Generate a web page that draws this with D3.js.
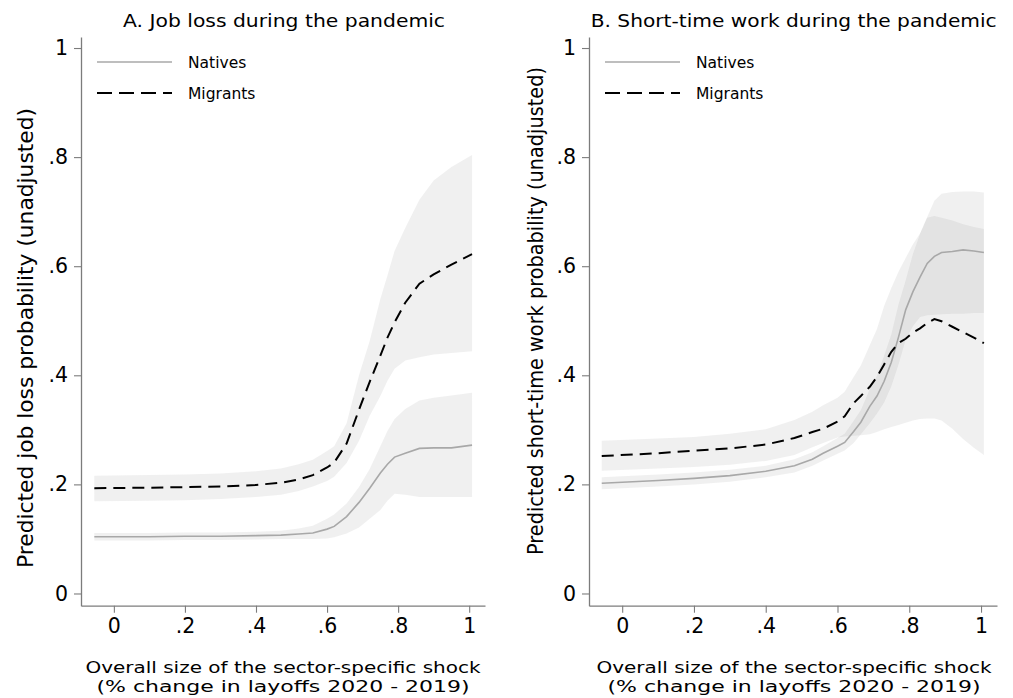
<!DOCTYPE html>
<html>
<head>
<meta charset="utf-8">
<script src="https://cdn.jsdelivr.net/npm/d3@7/dist/d3.min.js"></script>
<style>
  html, body { margin: 0; padding: 0; background: #fff; }
  svg { display: block; }
  text { font-family: "DejaVu Sans", Verdana, sans-serif; fill: #000; }
</style>
</head>
<body>
<svg id="chart" width="1013" height="698"></svg>
<script>
// ---------------- DATA ----------------
const tickVals = [0, 0.2, 0.4, 0.6, 0.8, 1];
const tickLabels = ["0", ".2", ".4", ".6", ".8", "1"];
const seriesNames = ["Natives", "Migrants"];

const titleA = "A. Job loss during the pandemic";
const titleB = "B. Short-time work during the pandemic";
const yTitleA = "Predicted job loss probability (unadjusted)";
const yTitleB = "Predicted short-time work probability (unadjusted)";
const xTitle1 = "Overall size of the sector-specific shock";
const xTitle2 = "(% change in layoffs 2020 - 2019)";

// Panel A: job loss
const shockA  = [-0.055, 0.1, 0.2, 0.3, 0.4, 0.47, 0.52, 0.56, 0.6, 0.62, 0.655, 0.69, 0.72, 0.75, 0.77, 0.79, 0.82, 0.86, 0.9, 0.95, 1.008];
const natA    = [0.104, 0.104, 0.105, 0.105, 0.106, 0.107, 0.109, 0.111, 0.118, 0.123, 0.141, 0.167, 0.193, 0.221, 0.237, 0.250, 0.257, 0.266, 0.267, 0.267, 0.272];
const natAHi  = [0.111, 0.111, 0.112, 0.112, 0.113, 0.115, 0.119, 0.124, 0.137, 0.145, 0.165, 0.195, 0.228, 0.270, 0.298, 0.320, 0.338, 0.354, 0.359, 0.363, 0.368];
const natALo  = [0.097, 0.097, 0.098, 0.098, 0.099, 0.100, 0.100, 0.100, 0.101, 0.103, 0.110, 0.121, 0.137, 0.153, 0.170, 0.183, 0.181, 0.177, 0.177, 0.177, 0.177];
const migA    = [0.193, 0.194, 0.195, 0.196, 0.199, 0.203, 0.209, 0.217, 0.231, 0.240, 0.275, 0.337, 0.388, 0.436, 0.469, 0.497, 0.533, 0.568, 0.585, 0.603, 0.622];
const migAHi  = [0.216, 0.217, 0.218, 0.220, 0.224, 0.229, 0.237, 0.245, 0.261, 0.270, 0.312, 0.400, 0.463, 0.540, 0.583, 0.628, 0.670, 0.722, 0.757, 0.782, 0.804];
const migALo  = [0.169, 0.170, 0.171, 0.173, 0.177, 0.181, 0.188, 0.196, 0.206, 0.214, 0.239, 0.280, 0.326, 0.362, 0.390, 0.412, 0.427, 0.433, 0.438, 0.441, 0.444];

// Panel B: short-time work
const shockB  = [-0.057, 0.1, 0.2, 0.3, 0.4, 0.48, 0.53, 0.56, 0.6, 0.62, 0.645, 0.665, 0.69, 0.71, 0.73, 0.75, 0.77, 0.79, 0.81, 0.83, 0.85, 0.87, 0.89, 0.92, 0.95, 0.98, 1.008];
const natB    = [0.202, 0.207, 0.211, 0.216, 0.224, 0.234, 0.246, 0.257, 0.270, 0.277, 0.297, 0.314, 0.343, 0.362, 0.389, 0.424, 0.470, 0.520, 0.553, 0.580, 0.605, 0.618, 0.625, 0.627, 0.630, 0.628, 0.625];
const natBHi  = [0.213, 0.218, 0.222, 0.227, 0.234, 0.246, 0.259, 0.270, 0.285, 0.293, 0.316, 0.336, 0.375, 0.399, 0.436, 0.475, 0.530, 0.574, 0.622, 0.659, 0.689, 0.692, 0.689, 0.684, 0.677, 0.672, 0.668];
const natBLo  = [0.191, 0.196, 0.200, 0.205, 0.213, 0.222, 0.234, 0.244, 0.256, 0.262, 0.276, 0.292, 0.312, 0.330, 0.350, 0.380, 0.420, 0.465, 0.490, 0.507, 0.510, 0.511, 0.512, 0.513, 0.513, 0.514, 0.514];
const migB    = [0.252, 0.257, 0.262, 0.266, 0.273, 0.285, 0.296, 0.302, 0.315, 0.325, 0.349, 0.362, 0.379, 0.397, 0.420, 0.443, 0.459, 0.467, 0.478, 0.486, 0.496, 0.503, 0.499, 0.489, 0.479, 0.469, 0.459];
const migBHi  = [0.280, 0.284, 0.287, 0.293, 0.301, 0.318, 0.333, 0.345, 0.359, 0.370, 0.397, 0.418, 0.455, 0.485, 0.527, 0.560, 0.590, 0.615, 0.640, 0.660, 0.690, 0.720, 0.733, 0.736, 0.737, 0.737, 0.735];
const migBLo  = [0.225, 0.229, 0.232, 0.236, 0.243, 0.254, 0.268, 0.276, 0.286, 0.288, 0.289, 0.290, 0.292, 0.296, 0.301, 0.305, 0.309, 0.313, 0.317, 0.320, 0.321, 0.321, 0.317, 0.302, 0.283, 0.267, 0.254];

// ---------------- DRAW ----------------
const svg = d3.select("#chart");
const AXIS_COL = "#7c7c7c";
const BAND_COL = "#8f8f8f";
const BAND_OP = 0.135;
const NAT_COL = "#a8a8a8";

function zip(xs, ys, lo, hi) {
  return xs.map((s, i) => ({ s: s, v: ys[i], lo: lo[i], hi: hi[i] }));
}

function drawPanel(cfg) {
  const x = d3.scaleLinear().domain([-0.0925, 1.0445]).range([cfg.x0, cfg.x1]);
  const y = d3.scaleLinear().domain([-0.0224, 1.0202]).range([605.7, 37]);
  const g = svg.append("g");

  const nat = zip(cfg.shock, cfg.nat, cfg.natLo, cfg.natHi);
  const mig = zip(cfg.shock, cfg.mig, cfg.migLo, cfg.migHi);

  const area = d3.area().x(d => x(d.s)).y0(d => y(d.lo)).y1(d => y(d.hi));
  const line = d3.line().x(d => x(d.s)).y(d => y(d.v));

  g.append("path").datum(nat).attr("d", area).attr("fill", BAND_COL).attr("fill-opacity", BAND_OP);
  g.append("path").datum(mig).attr("d", area).attr("fill", BAND_COL).attr("fill-opacity", BAND_OP);

  g.append("path").datum(nat).attr("d", line).attr("fill", "none")
    .attr("stroke", NAT_COL).attr("stroke-width", 1.6);
  g.append("path").datum(mig).attr("d", line).attr("fill", "none")
    .attr("stroke", "#000").attr("stroke-width", 2).attr("stroke-dasharray", "12,7");

  // axes
  const xAxis = d3.axisBottom(x).tickValues(tickVals).tickFormat((d, i) => tickLabels[i])
    .tickSizeInner(7).tickSizeOuter(0).tickPadding(6);
  const yAxis = d3.axisLeft(y).tickValues(tickVals).tickFormat((d, i) => tickLabels[i])
    .tickSizeInner(7).tickSizeOuter(0).tickPadding(6);

  const gx = g.append("g").attr("transform", "translate(0,605.7)").call(xAxis);
  const gy = g.append("g").attr("transform", `translate(${cfg.x0},0)`).call(yAxis);
  [gx, gy].forEach(a => {
    a.attr("font-size", null);
    a.select(".domain").attr("stroke", AXIS_COL).attr("stroke-width", 1.3);
    a.selectAll(".tick line").attr("stroke", AXIS_COL).attr("stroke-width", 1.1);
    a.selectAll(".tick text").attr("fill", "#000").style("font-size", "20.5px")
      .style("font-family", '"DejaVu Sans", Verdana, sans-serif');
  });

  // title
  g.append("text").attr("x", cfg.titleX).attr("y", 27).attr("text-anchor", "middle")
    .style("font-size", "17.5px").attr("textLength", cfg.titleW).attr("lengthAdjust", "spacingAndGlyphs")
    .text(cfg.title);

  // y title
  g.append("text").attr("transform", `translate(${cfg.yTitleX},${cfg.yTitleY}) rotate(-90)`)
    .attr("text-anchor", "middle").style("font-size", "21px")
    .attr("textLength", cfg.yTitleW).attr("lengthAdjust", "spacingAndGlyphs")
    .text(cfg.yTitle);

  // x title (two lines)
  g.append("text").attr("x", cfg.xTitleX).attr("y", 672.5).attr("text-anchor", "middle")
    .style("font-size", "16px").attr("textLength", 395).attr("lengthAdjust", "spacingAndGlyphs")
    .text(xTitle1);
  g.append("text").attr("x", cfg.xTitleX).attr("y", 691.5).attr("text-anchor", "middle")
    .style("font-size", "16px").attr("textLength", 373).attr("lengthAdjust", "spacingAndGlyphs")
    .text(xTitle2);

  // legend
  const lx = cfg.x0 + 16;
  const leg = g.append("g");
  leg.append("line").attr("x1", lx).attr("x2", lx + 75).attr("y1", 62).attr("y2", 62)
    .attr("stroke", NAT_COL).attr("stroke-width", 1.6);
  leg.append("line").attr("x1", lx).attr("x2", lx + 75).attr("y1", 93).attr("y2", 93)
    .attr("stroke", "#000").attr("stroke-width", 2).attr("stroke-dasharray", "15,7");
  leg.append("text").attr("x", lx + 91).attr("y", 67.7).style("font-size", "15.5px").text(seriesNames[0]);
  leg.append("text").attr("x", lx + 91).attr("y", 98.5).style("font-size", "15.5px").text(seriesNames[1]);
}

drawPanel({
  x0: 81, x1: 485,
  shock: shockA, nat: natA, natLo: natALo, natHi: natAHi, mig: migA, migLo: migALo, migHi: migAHi,
  title: titleA, titleX: 284, titleW: 322,
  yTitle: yTitleA, yTitleX: 33, yTitleY: 338, yTitleW: 460,
  xTitleX: 283
});
drawPanel({
  x0: 589, x1: 997,
  shock: shockB, nat: natB, natLo: natBLo, natHi: natBHi, mig: migB, migLo: migBLo, migHi: migBHi,
  title: titleB, titleX: 793.7, titleW: 406,
  yTitle: yTitleB, yTitleX: 542.5, yTitleY: 311, yTitleW: 488,
  xTitleX: 794
});
</script>
</body>
</html>
